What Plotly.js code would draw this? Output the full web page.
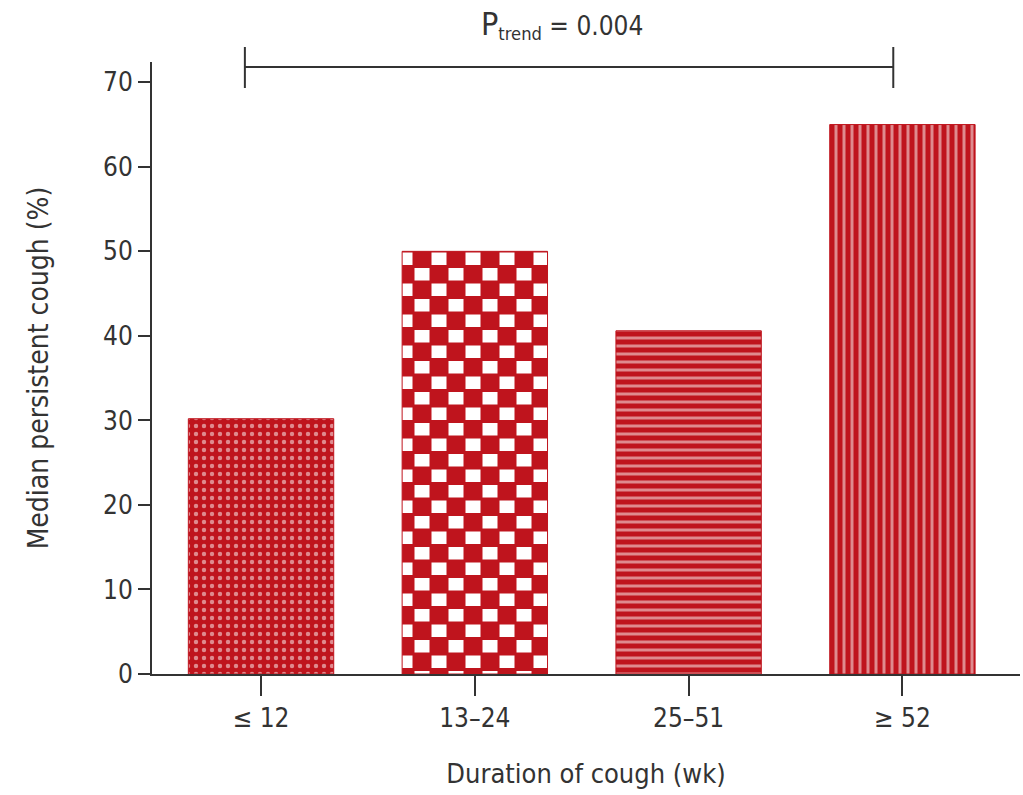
<!DOCTYPE html>
<html>
<head>
<meta charset="utf-8">
<script src="https://cdn.plot.ly/plotly-3.0.1.min.js"></script>
<style>
  html, body { margin: 0; padding: 0; background: #fff; }
  #chart { width: 1023px; height: 795px; }
</style>
</head>
<body>
<div id="chart"></div>
<script>
// ---- data ----
const categories = ['≤ 12', '13–24', '25–51', '≥ 52'];
const values = [30.2, 50, 40.6, 65];
const yTickVals = [0, 10, 20, 30, 40, 50, 60, 70];
const pTrendText = '<span style="font-size:32px">P</span><sub>trend</sub> = 0.004';
const xTitle = 'Duration of cough (wk)';
const yTitle = 'Median persistent cough (%)';

// ---- style ----
const RED = '#bf141d';
const INK = '#333333';
const FONT = '"DejaVu Sans Condensed", "Liberation Sans Narrow", sans-serif';

const trace = {
  type: 'bar',
  x: categories,
  y: values,
  marker: {
    color: RED,
    line: { color: RED, width: 1 },
    pattern: {
      shape: ['.', '', '-', '|'],
      fgcolor: '#ffffff',
      bgcolor: RED,
      fillmode: 'overlay',
      size: [8, 10, 8, 8],
      solidity: [0.24, 0.3, 0.375, 0.375]
    }
  },
  hoverinfo: 'skip'
};

const layout = {
  width: 1023,
  height: 795,
  margin: { l: 152, r: 3, t: 62, b: 121 },
  paper_bgcolor: '#ffffff',
  plot_bgcolor: '#ffffff',
  showlegend: false,
  bargap: 0.32,
  font: { family: FONT, color: INK, size: 26 },
  xaxis: {
    type: 'category',
    range: [-0.51, 3.55],
    showline: true,
    linecolor: INK,
    linewidth: 2,
    ticks: 'outside',
    ticklen: 20,
    tickwidth: 2,
    tickcolor: INK,
    showgrid: false,
    zeroline: false,
    tickfont: { family: FONT, size: 26, color: INK },
    title: { text: xTitle, font: { family: FONT, size: 27, color: INK }, standoff: 32 }
  },
  yaxis: {
    range: [0, 72.4],
    tickvals: yTickVals,
    showline: true,
    linecolor: INK,
    linewidth: 2,
    ticks: 'outside',
    ticklen: 12,
    tickwidth: 2,
    tickcolor: INK,
    showgrid: false,
    zeroline: false,
    tickfont: { family: FONT, size: 26, color: INK },
    title: { text: yTitle, font: { family: FONT, size: 28, color: INK }, standoff: 46 }
  },
  shapes: [
    { type: 'line', xref: 'paper', yref: 'paper', x0: 0.107, x1: 0.854, y0: 0.992, y1: 0.992, line: { color: INK, width: 2 } },
    { type: 'line', xref: 'paper', yref: 'paper', x0: 0.107, x1: 0.107, y0: 0.9575, y1: 1.0245, line: { color: INK, width: 2 } },
    { type: 'line', xref: 'paper', yref: 'paper', x0: 0.854, x1: 0.854, y0: 0.9575, y1: 1.0245, line: { color: INK, width: 2 } }
  ],
  annotations: [
    { xref: 'paper', yref: 'paper', x: 0.472, y: 1.062, xanchor: 'center', yanchor: 'middle',
      text: pTrendText, showarrow: false, font: { family: FONT, size: 26, color: INK } }
  ]
};

Plotly.newPlot('chart', [trace], layout, { displayModeBar: false, staticPlot: true }).then(function (gd) {
  // checkerboard fill for the second bar (Plotly has no checker pattern shape)
  const svg = gd.querySelector('svg.main-svg');
  const ns = 'http://www.w3.org/2000/svg';
  let defs = svg.querySelector('defs');
  if (!defs) { defs = document.createElementNS(ns, 'defs'); svg.insertBefore(defs, svg.firstChild); }
  const pat = document.createElementNS(ns, 'pattern');
  pat.setAttribute('id', 'checkerFill');
  pat.setAttribute('patternUnits', 'userSpaceOnUse');
  pat.setAttribute('x', '279');
  pat.setAttribute('y', '189');
  pat.setAttribute('width', '34');
  pat.setAttribute('height', '31');
  const bg = document.createElementNS(ns, 'rect');
  bg.setAttribute('x', '0'); bg.setAttribute('y', '0'); bg.setAttribute('width', '34'); bg.setAttribute('height', '31');
  bg.setAttribute('fill', RED);
  pat.appendChild(bg);
  [[0, 0], [17, 15.5]].forEach(function (p) {
    const r = document.createElementNS(ns, 'rect');
    r.setAttribute('x', p[0] + 0.5); r.setAttribute('y', p[1] + 1.5);
    r.setAttribute('width', '15'); r.setAttribute('height', '12.5');
    r.setAttribute('fill', '#ffffff');
    pat.appendChild(r);
  });
  defs.appendChild(pat);
  const pts = gd.querySelectorAll('.barlayer .trace .point path');
  if (pts.length > 1) {
    pts[1].style.fill = 'url(#checkerFill)';
  }
});
</script>
</body>
</html>
